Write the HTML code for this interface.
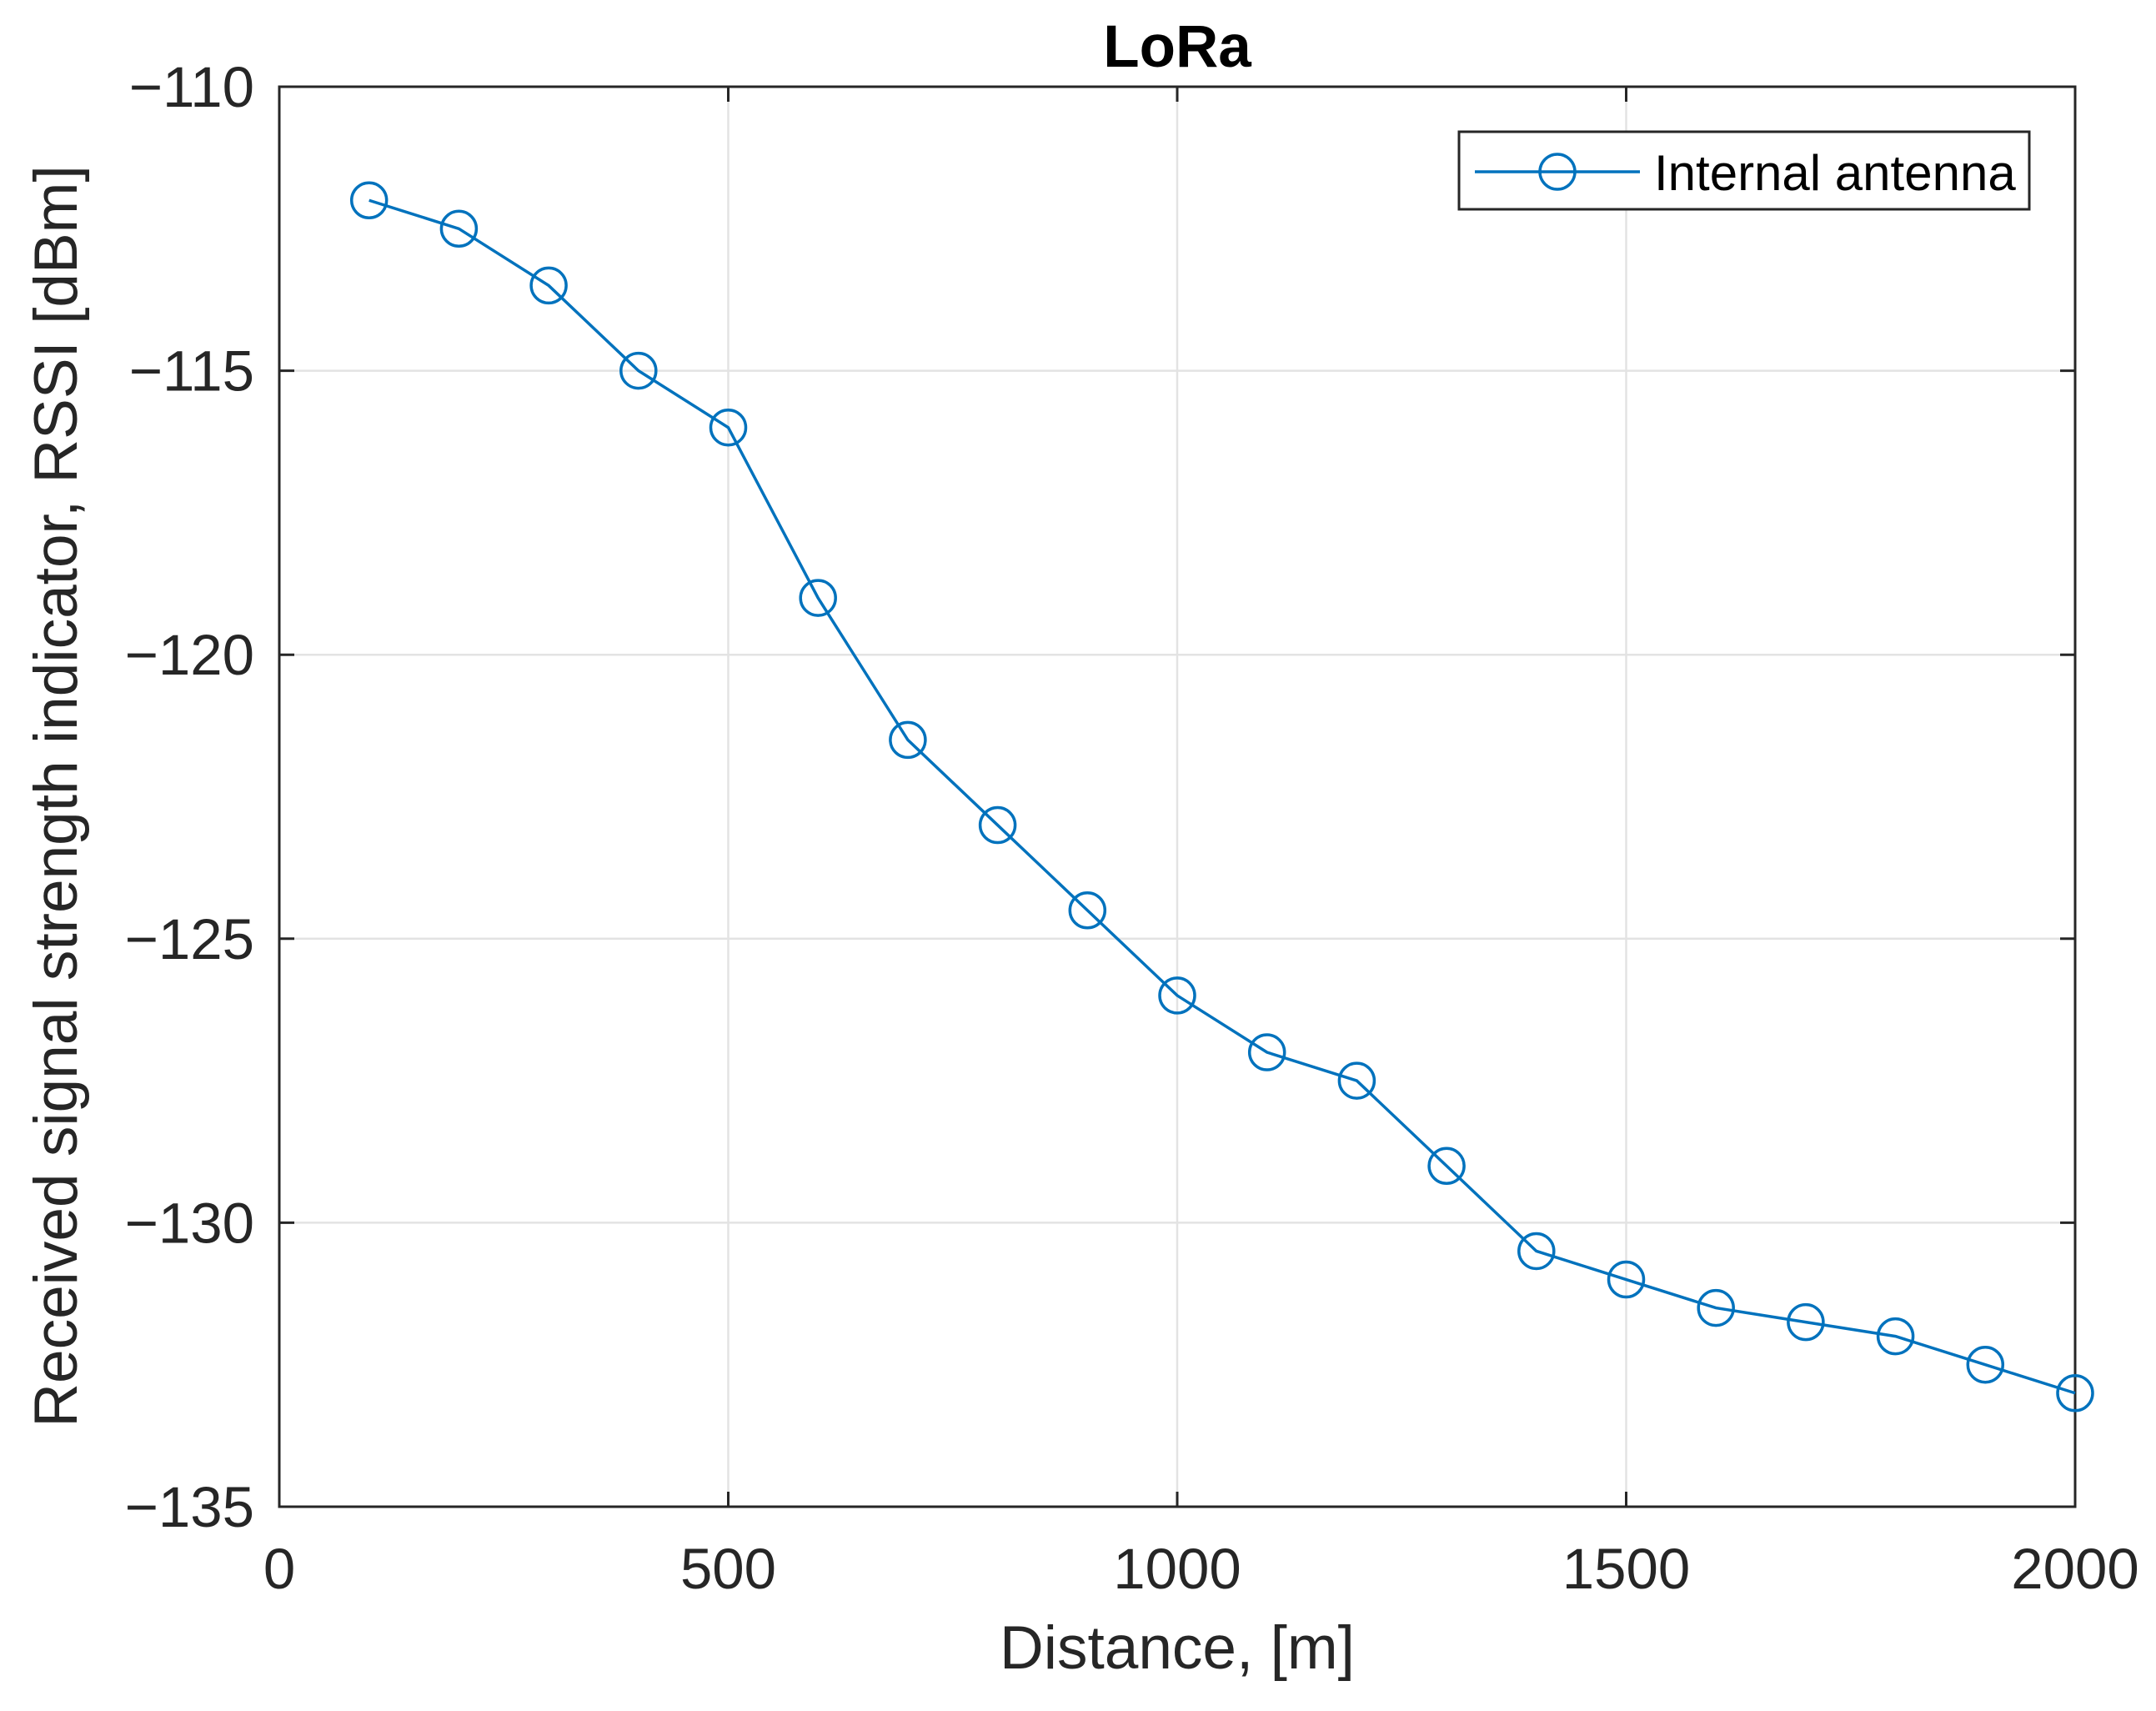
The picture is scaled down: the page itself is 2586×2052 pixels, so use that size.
<!DOCTYPE html>
<html><head><meta charset="utf-8"><style>
html,body{margin:0;padding:0;background:#fff;}
svg{display:block;font-family:"Liberation Sans",Arial,sans-serif;}
</style></head><body>
<svg id="chart" width="2586" height="2052" viewBox="0 0 2586 2052">
<text x="1412" y="80" text-anchor="middle" font-size="71" font-weight="bold" fill="#000">LoRa</text>
<g id="grid"></g>
<g id="ticks"></g>
<rect x="335" y="104" width="2154" height="1703" fill="none" stroke="#262626" stroke-width="3"/>
<g id="series"></g>
<text x="1412" y="2001" text-anchor="middle" font-size="73" fill="#262626">Distance, [m]</text>
<text transform="translate(92,955) rotate(-90)" text-anchor="middle" font-size="73" fill="#262626">Received signal strength indicator, RSSI [dBm]</text>
<g>
<rect x="1750" y="158" width="684" height="93" fill="#fff" stroke="#262626" stroke-width="3"/>
<line x1="1769" y1="206" x2="1967" y2="206" stroke="#0072BD" stroke-width="3.5"/>
<circle cx="1868" cy="206" r="21" fill="none" stroke="#0072BD" stroke-width="3.5"/>
<text x="1984" y="228" font-size="60" fill="#000">Internal antenna</text>
</g>
</svg>
<script>
const distances = [100,200,300,400,500,600,700,800,900,1000,1100,1200,1300,1400,1500,1600,1700,1800,1900,2000];
const rssi = [-112,-112.5,-113.5,-115,-116,-119,-121.5,-123,-124.5,-126,-127,-127.5,-129,-130.5,-131,-131.5,-131.75,-132,-132.5,-133];
const xTicks = [0,500,1000,1500,2000];
const yTicks = [-110,-115,-120,-125,-130,-135];
const X0=335,X1=2489,Y0=104,Y1=1807;
const xs = v => X0 + (v-0)/(2000-0)*(X1-X0);
const ys = v => Y0 + (-110 - v)/25*(Y1-Y0);
const NS="http://www.w3.org/2000/svg";
function mk(tag, attrs, parent){const e=document.createElementNS(NS,tag);for(const k in attrs)e.setAttribute(k,attrs[k]);parent.appendChild(e);return e;}
const grid=document.getElementById('grid'), ticks=document.getElementById('ticks'), series=document.getElementById('series');
xTicks.forEach(t=>{
  const x=xs(t);
  if(t>0&&t<2000){const g=mk('line',{x1:x,y1:Y0,x2:x,y2:Y1,stroke:'#e3e3e3','stroke-width':2.5},grid);
  
  }
  const a=mk('line',{x1:x,y1:Y1,x2:x,y2:Y1-18,stroke:'#262626','stroke-width':3},ticks);
  
  
  const b=mk('line',{x1:x,y1:Y0,x2:x,y2:Y0+18,stroke:'#262626','stroke-width':3},ticks);
  
  
  const l=mk('text',{x:x,y:1905,'text-anchor':'middle','font-size':69,fill:'#262626'},ticks);
  l.textContent=String(t);
  
  
});
yTicks.forEach(t=>{
  const y=ys(t);
  if(t<-110&&t>-135){const g=mk('line',{x1:X0,y1:y,x2:X1,y2:y,stroke:'#e3e3e3','stroke-width':2.5},grid);
  
  }
  const a=mk('line',{x1:X0,y1:y,x2:X0+18,y2:y,stroke:'#262626','stroke-width':3},ticks);
  
  
  const b=mk('line',{x1:X1,y1:y,x2:X1-18,y2:y,stroke:'#262626','stroke-width':3},ticks);
  
  
  const l=mk('text',{x:305,y:y+24,'text-anchor':'end','font-size':69,fill:'#262626'},ticks);
  l.textContent='\u2212'+String(Math.abs(t));
  
  
});
const pts=distances.map((d,i)=>xs(d)+','+ys(rssi[i])).join(' ');
const pl=mk('polyline',{points:pts,fill:'none',stroke:'#0072BD','stroke-width':3.5},series);


distances.forEach((d,i)=>{
  const c=mk('circle',{cx:xs(d),cy:ys(rssi[i]),r:21,fill:'none',stroke:'#0072BD','stroke-width':3.5},series);
  
  
});
</script>
</body></html>
